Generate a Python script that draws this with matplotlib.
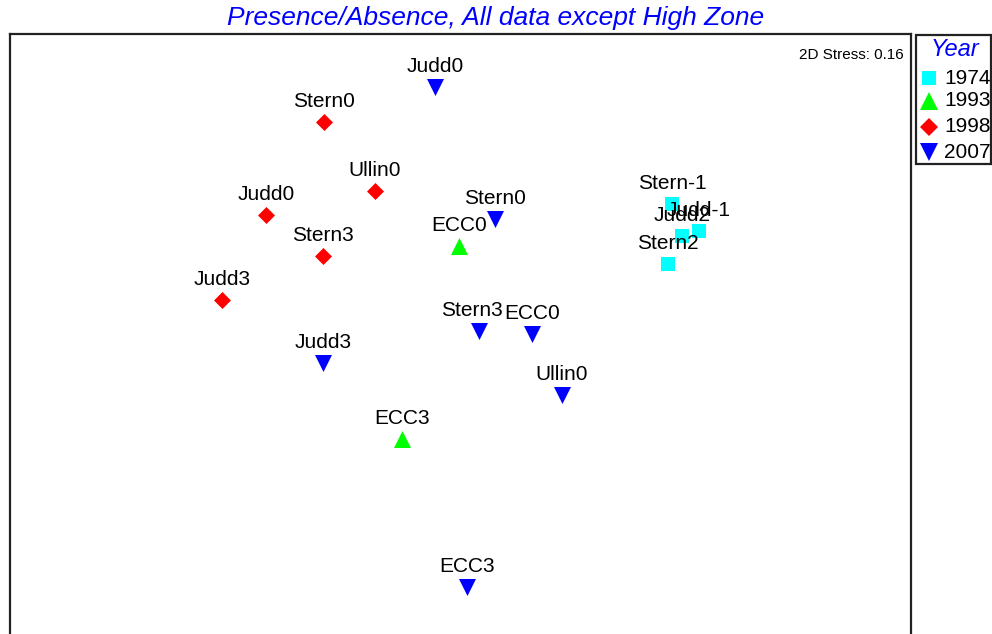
import matplotlib.pyplot as plt
from matplotlib.patches import Rectangle

plt.rcParams['font.family'] = ['Liberation Sans', 'DejaVu Sans']

# MDS ordination positions (screen-like units, y grows downward)
labels_1974 = ['Stern-1', 'Judd2', 'Judd-1', 'Stern2']
x_1974 = [672, 682, 699, 668]
y_1974 = [204, 236, 231, 264]

labels_1993 = ['ECC0', 'ECC3']
x_1993 = [459, 402]
y_1993 = [246, 439]

labels_1998 = ['Stern0', 'Ullin0', 'Judd0', 'Stern3', 'Judd3']
x_1998 = [324, 375, 266, 323, 222]
y_1998 = [122, 191, 215, 256, 300]

labels_2007 = ['Judd0', 'Stern0', 'Stern3', 'ECC0', 'Judd3', 'Ullin0', 'ECC3']
x_2007 = [435, 495, 479, 532, 323, 562, 467]
y_2007 = [87, 219, 331, 334, 363, 395, 587]
label_dx_2007 = [0, 0, -7, 0, 0, 0, 0]

years = ['1974', '1993', '1998', '2007']
colors = ['#00ffff', '#00ff00', '#ff0000', '#0000ff']
markers = ['s', '^', 'D', 'v']
sizes = [105, 150, 75, 150]

W, H = 992, 634
fig = plt.figure(figsize=(W / 100, H / 100), dpi=100)

# plot box runs off the bottom of the figure
left, right, top, bottom = 10, 911, 34, 670
ax = fig.add_axes([left / W, 1 - bottom / H, (right - left) / W, (bottom - top) / H])
ax.set_xlim(left, right)
ax.set_ylim(bottom, top)
ax.set_xticks([])
ax.set_yticks([])
for s in ax.spines.values():
    s.set_linewidth(1.6)
    s.set_color('#222222')

groups = [
    (labels_1974, x_1974, y_1974, [0] * 4),
    (labels_1993, x_1993, y_1993, [0] * 2),
    (labels_1998, x_1998, y_1998, [0] * 5),
    (labels_2007, x_2007, y_2007, label_dx_2007),
]
for (labs, xs, ys, dxs), c, m, sz in zip(groups, colors, markers, sizes):
    ax.scatter(xs, ys, s=sz, marker=m, color=c, linewidths=0, zorder=3)
    for lab, xv, yv, dx in zip(labs, xs, ys, dxs):
        ax.annotate(lab, (xv, yv), xytext=(dx * 0.72, 11), textcoords='offset points',
                    ha='center', va='baseline', fontsize=15, color='black', zorder=4)

ax.text(0.9925, 0.978, '2D Stress: 0.16', transform=ax.transAxes, ha='right', va='top',
        fontsize=11)

fig.text(0.5, 1 - 18 / H, 'Presence/Absence, All data except High Zone', ha='center',
         va='center', color='#0000ff', style='italic', fontsize=19)

# legend box
lx0, lx1, ly0, ly1 = 916, 991, 35, 164
fig.patches.append(Rectangle((lx0 / W, 1 - ly1 / H), (lx1 - lx0) / W, (ly1 - ly0) / H,
                             transform=fig.transFigure, fill=False, lw=1.6,
                             edgecolor='#222222'))
fig.text(955 / W, 1 - 50 / H, 'Year', ha='center', va='center', color='#0000ff',
         style='italic', fontsize=17)
row_y = [78, 101, 127, 152]
for yr, c, m, sz, ry in zip(years, colors, markers, sizes, row_y):
    fig.lines.append(plt.Line2D([929 / W], [1 - ry / H], marker=m, color=c,
                                markersize=sz ** 0.5, markeredgewidth=0,
                                linestyle='none', transform=fig.transFigure))
    fig.text(944 / W, 1 - ry / H, yr, ha='left', va='center', fontsize=15)

fig.savefig('out.png', dpi=100)
